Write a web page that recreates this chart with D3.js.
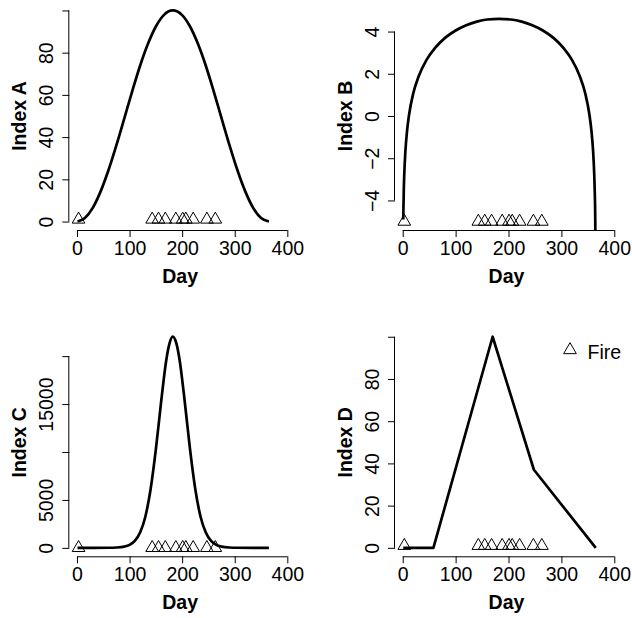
<!DOCTYPE html>
<html>
<head>
<meta charset="utf-8">
<script src="https://cdn.jsdelivr.net/npm/d3@7"></script>
<style>
  body { margin: 0; background: #fff; }
  svg { display: block; }
  text { font-family: "Liberation Sans", Arial, Helvetica, sans-serif; font-size: 19.5px; fill: #000; }
</style>
</head>
<body>
<svg id="chart" width="632" height="618"></svg>
<script>
// values
const daysA = [1, 15, 30, 45, 60, 75, 90, 105, 120, 135, 150, 165, 182, 200, 215, 230, 245, 260, 275, 290, 305, 320, 335, 350, 365];
const indexA = [0, 1.7, 6.5, 14.3, 24.4, 36.2, 48.9, 61.7, 73.8, 84.2, 92.4, 97.8, 100, 97.8, 92.4, 84.2, 73.8, 61.7, 48.9, 36.2, 24.4, 14.3, 6.5, 1.7, 0];

const daysB = [1, 2, 3, 5, 8, 12, 20, 30, 45, 60, 80, 100, 120, 140, 160, 182, 205, 225, 245, 265, 285, 305, 320, 335, 345, 353, 357, 360, 362, 363, 364, 365];
const indexB = [-4.9, -3.52, -2.71, -1.69, -0.75, 0.06, 1.08, 1.87, 2.66, 3.19, 3.7, 4.05, 4.3, 4.47, 4.57, 4.6, 4.57, 4.47, 4.3, 4.05, 3.7, 3.19, 2.66, 1.87, 1.08, 0.06, -0.75, -1.69, -2.71, -3.52, -4.9, -9];

const daysC = [1, 30, 60, 75, 90, 100, 110, 120, 130, 140, 150, 160, 170, 176, 182, 189, 195, 205, 215, 225, 235, 245, 255, 265, 275, 290, 305, 335, 365];
const indexC = [1, 2, 11, 37, 133, 314, 726, 1600, 3250, 6120, 10270, 15220, 19660, 21330, 22030, 21330, 19660, 15220, 10270, 6120, 3250, 1600, 726, 314, 133, 37, 11, 2, 1];

const daysD = [1, 58, 170, 248, 365];
const indexD = [0, 0, 100, 37, 0];

const fireDays = [3, 143, 155, 168, 188, 201, 207, 221, 247, 263];
const fireLevel = [1, -5, 1, 1];

const xTicks = [0, 100, 200, 300, 400];
const yTicksA = [0, 20, 40, 60, 80, 100];
const yLabelsA = ["0", "20", "40", "60", "80", ""];
const yTicksB = [-4, -2, 0, 2, 4];
const yLabelsB = ["\u22124", "\u22122", "0", "2", "4"];
const yTicksC = [0, 5000, 10000, 15000, 20000];
const yLabelsC = ["0", "5000", "", "15000", ""];
const yTicksD = [0, 20, 40, 60, 80, 100];
const yLabelsD = ["0", "20", "40", "60", "80", ""];

const titles = ["Index A", "Index B", "Index C", "Index D"];

const svg = d3.select("#chart");

// plot boxes (pixels), R-style usr ranges
const boxes = [
  { x0: 69.3, x1: 276.6, y0: 2, y1: 230 },
  { x0: 395, x1: 603.5, y0: 2, y1: 230 },
  { x0: 69.3, x1: 276.6, y0: 328.3, y1: 556.3 },
  { x0: 395, x1: 603.5, y0: 328.3, y1: 556.3 }
];
const yDomains = [[-4, 104], [-5.4, 5.4], [-880, 22906], [-4, 104]];

const series = [
  { days: daysA, vals: indexA, ticks: yTicksA, labels: yLabelsA, curve: d3.curveMonotoneX },
  { days: daysB, vals: indexB, ticks: yTicksB, labels: yLabelsB, curve: d3.curveMonotoneX },
  { days: daysC, vals: indexC, ticks: yTicksC, labels: yLabelsC, curve: d3.curveMonotoneX },
  { days: daysD, vals: indexD, ticks: yTicksD, labels: yLabelsD, curve: d3.curveLinear }
];

const tri = d3.symbol().type(d3.symbolTriangle).size(70);

series.forEach(function (s, i) {
  const b = boxes[i];
  const x = d3.scaleLinear().domain([-14.6, 379.6]).range([b.x0, b.x1]);
  const y = d3.scaleLinear().domain(yDomains[i]).range([b.y1, b.y0]);

  const g = svg.append("g");

  svg.append("clipPath").attr("id", "clip" + i)
    .append("rect")
    .attr("x", b.x0).attr("y", b.y0)
    .attr("width", b.x1 - b.x0).attr("height", b.y1 - b.y0);

  // x axis
  const xa = g.append("g")
    .attr("transform", "translate(0," + b.y1 + ")")
    .call(d3.axisBottom(x).tickValues(xTicks).tickSize(7).tickSizeOuter(0).tickPadding(4.3));
  xa.select(".domain").attr("d", "M" + x(0) + ",0.5H" + x(400));
  xa.selectAll("text").attr("font-size", null);
  xa.attr("font-size", null).attr("font-family", null);

  // y axis
  const ya = g.append("g")
    .attr("transform", "translate(" + b.x0 + ",0)")
    .call(d3.axisLeft(y).tickValues(s.ticks).tickSize(7).tickSizeOuter(0)
      .tickFormat(function (d, k) { return s.labels[k]; }));
  ya.select(".domain").attr("d", "M-0.5," + y(s.ticks[0]) + "V" + y(s.ticks[s.ticks.length - 1]));
  ya.attr("font-size", null).attr("font-family", null);
  ya.selectAll("text")
    .attr("x", null)
    .attr("dy", "0.36em")
    .attr("text-anchor", "middle")
    .attr("transform", "translate(-23,0) rotate(-90)");

  // labels
  g.append("text")
    .attr("x", (x(0) + x(400)) / 2 - 2)
    .attr("y", b.y1 + 46)
    .attr("dy", "0.36em")
    .attr("text-anchor", "middle")
    .attr("font-weight", "bold")
    .text("Day");

  g.append("text")
    .attr("transform", "translate(" + (b.x0 - 50) + "," + ((b.y0 + b.y1) / 2) + ") rotate(-90)")
    .attr("dy", "0.36em")
    .attr("text-anchor", "middle")
    .attr("font-weight", "bold")
    .text(titles[i]);

  // curve
  const pts = s.days.map(function (d, k) { return [d, s.vals[k]]; });
  g.append("path")
    .datum(pts)
    .attr("clip-path", "url(#clip" + i + ")")
    .attr("fill", "none")
    .attr("stroke", "#000")
    .attr("stroke-width", 2.7)
    .attr("stroke-linejoin", "round")
    .attr("d", d3.line()
      .x(function (d) { return x(d[0]); })
      .y(function (d) { return y(d[1]); })
      .curve(s.curve));

  // fire points
  g.append("g")
    .selectAll("path")
    .data(fireDays).enter()
    .append("path")
    .attr("d", tri)
    .attr("transform", function (d) { return "translate(" + x(d) + "," + y(fireLevel[i]) + ")"; })
    .attr("fill", "none")
    .attr("stroke", "#000")
    .attr("stroke-width", 1);

  // legend in last panel
  if (i === 3) {
    const lg = g.append("g").attr("transform", "translate(570,350)");
    lg.append("path").attr("d", tri)
      .attr("fill", "none").attr("stroke", "#000").attr("stroke-width", 1);
    lg.append("text").attr("x", 17.5).attr("y", 1.5).attr("dy", "0.36em").text("Fire");
  }
});
</script>
</body>
</html>
